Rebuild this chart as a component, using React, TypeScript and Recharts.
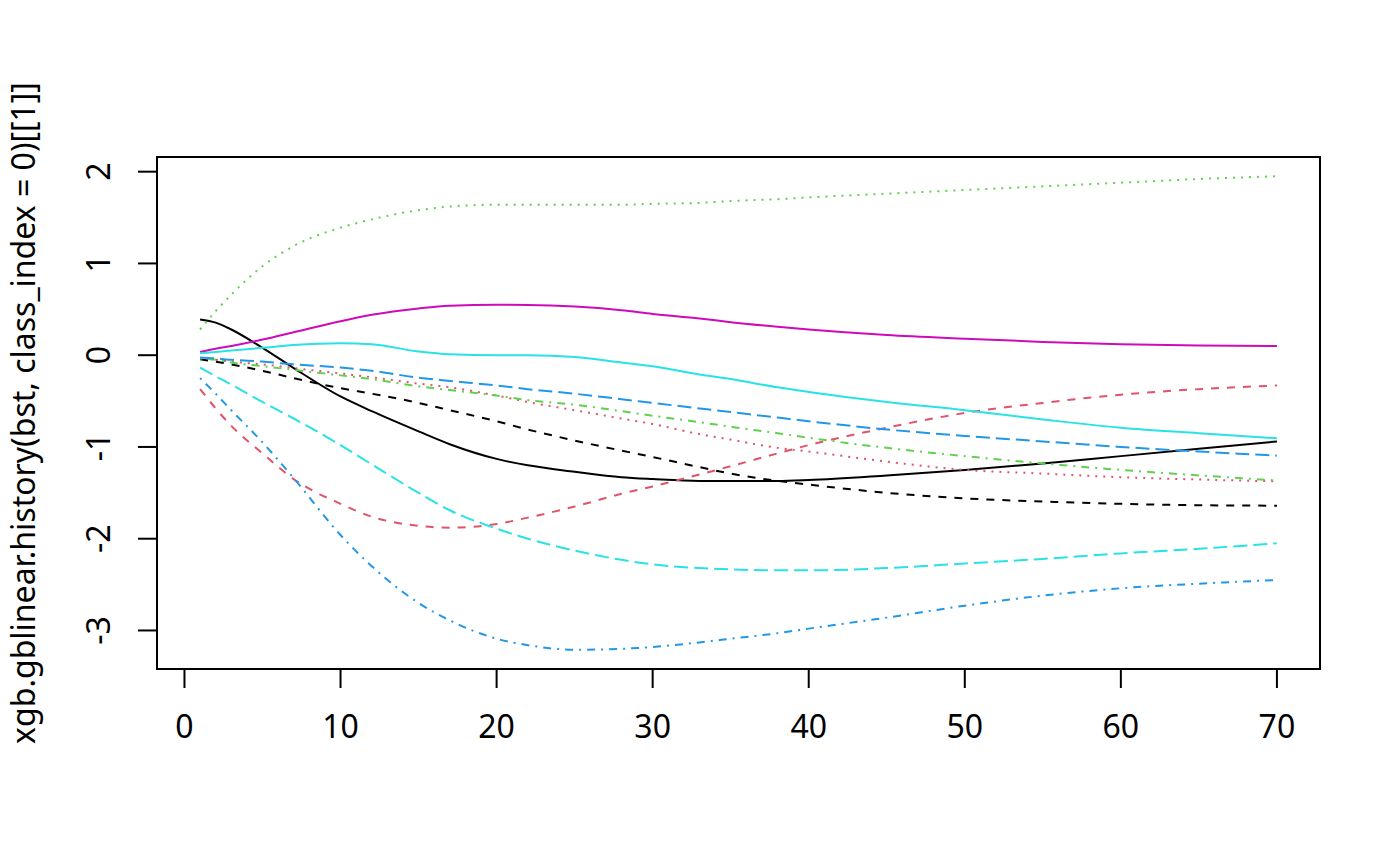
import React from 'react';
import { LineChart, Line, XAxis, YAxis, ReferenceArea } from 'recharts';

// iteration numbers the history was sampled at
const iterations = [1, 2, 3, 5, 7, 10, 12, 15, 17, 20, 22, 25, 28, 30, 33, 35, 38, 40, 45, 50, 55, 60, 65, 70];

// one array per coefficient column of the history matrix
const coef1 = [0.39, 0.355, 0.28, 0.08, -0.14, -0.45, -0.61, -0.83, -0.97, -1.13, -1.2, -1.27, -1.33, -1.35, -1.37, -1.37, -1.37, -1.36, -1.31, -1.25, -1.18, -1.1, -1.02, -0.94];
const coef2 = [-0.37, -0.58, -0.77, -1.07, -1.35, -1.62, -1.76, -1.86, -1.88, -1.84, -1.77, -1.65, -1.51, -1.43, -1.3, -1.21, -1.07, -0.98, -0.79, -0.63, -0.52, -0.43, -0.37, -0.33];
const coef3 = [0.28, 0.48, 0.66, 0.97, 1.19, 1.39, 1.48, 1.58, 1.62, 1.64, 1.64, 1.64, 1.64, 1.65, 1.66, 1.68, 1.7, 1.72, 1.76, 1.8, 1.84, 1.88, 1.92, 1.95];
const coef4 = [-0.25, -0.42, -0.6, -0.95, -1.34, -1.96, -2.3, -2.7, -2.89, -3.09, -3.16, -3.21, -3.2, -3.18, -3.13, -3.09, -3.03, -2.98, -2.86, -2.73, -2.62, -2.54, -2.49, -2.45];
const coef5 = [-0.135, -0.23, -0.32, -0.51, -0.69, -0.98, -1.19, -1.5, -1.69, -1.89, -2.0, -2.13, -2.23, -2.28, -2.32, -2.335, -2.345, -2.345, -2.32, -2.27, -2.22, -2.16, -2.11, -2.05];
const coef6 = [0.035, 0.07, 0.1, 0.17, 0.25, 0.37, 0.44, 0.51, 0.54, 0.55, 0.548, 0.53, 0.49, 0.45, 0.4, 0.36, 0.31, 0.28, 0.22, 0.18, 0.145, 0.12, 0.105, 0.1];
const coef7 = [-0.045, -0.07, -0.1, -0.17, -0.25, -0.36, -0.42, -0.52, -0.6, -0.72, -0.81, -0.93, -1.04, -1.11, -1.22, -1.29, -1.37, -1.41, -1.5, -1.56, -1.595, -1.62, -1.635, -1.64];
const coef8 = [-0.03, -0.05, -0.07, -0.1, -0.14, -0.2, -0.24, -0.31, -0.35, -0.44, -0.51, -0.6, -0.69, -0.75, -0.86, -0.92, -1.01, -1.05, -1.16, -1.25, -1.29, -1.33, -1.355, -1.375];
const coef9 = [-0.035, -0.05, -0.08, -0.12, -0.16, -0.22, -0.26, -0.34, -0.38, -0.44, -0.49, -0.54, -0.61, -0.66, -0.73, -0.78, -0.85, -0.9, -1.01, -1.1, -1.18, -1.25, -1.31, -1.365];
const coef10 = [-0.025, -0.035, -0.05, -0.07, -0.1, -0.135, -0.17, -0.245, -0.28, -0.33, -0.37, -0.42, -0.48, -0.52, -0.58, -0.62, -0.68, -0.72, -0.81, -0.88, -0.94, -1.0, -1.05, -1.095];
const coef11 = [0.02, 0.035, 0.05, 0.08, 0.11, 0.13, 0.12, 0.04, 0.01, 0.0, 0.0, -0.02, -0.08, -0.12, -0.21, -0.26, -0.35, -0.4, -0.51, -0.6, -0.7, -0.79, -0.85, -0.905];

const xTicks = [0, 10, 20, 30, 40, 50, 60, 70];
const yTicks = [-3, -2, -1, 0, 1, 2];
const yLabel = 'xgb.gblinear.history(bst, class_index = 0)[[1]]';

// matplot defaults: col = 1:6, lty = 1:5
const palette = ['#000000', '#DF536B', '#61D04F', '#2297E6', '#28E2E5', '#CD0BBC'];
const dashes = ['', '8 8', '2 6', '2 6 8 6', '14 6'];

const columns = [coef1, coef2, coef3, coef4, coef5, coef6, coef7, coef8, coef9, coef10, coef11];

const data = iterations.map((it, i) => {
    const row: any = { iter: it };
    columns.forEach((col, j) => {
        row['c' + (j + 1)] = col[i];
    });
    return row;
});

const X_DOMAIN: [number, number] = [-1.76, 72.76];
const Y_DOMAIN: [number, number] = [-3.42, 2.16];
const FONT = '"Noto Sans", "DejaVu Sans", sans-serif';

const XTick = (props: any) => {
    const { x, y, payload } = props;
    return (
        <text x={x} y={y + 50} textAnchor="middle" fontSize={32} fontFamily={FONT} fill="#000">
            {payload.value}
        </text>
    );
};

const YTick = (props: any) => {
    const { x, y, payload } = props;
    return (
        <text
            x={x}
            y={y}
            transform={`rotate(-90, ${x}, ${y})`}
            textAnchor="middle"
            fontSize={32}
            fontFamily={FONT}
            fill="#000"
        >
            {payload.value}
        </text>
    );
};

export default function App() {
    return (
        <div style={{ position: 'absolute', left: 0, top: 0, width: 1400, height: 866, background: '#fff' }}>
            <LineChart width={1400} height={866} data={data} margin={{ top: 157, right: 80, bottom: 0, left: 0 }}>
                <XAxis
                    dataKey="iter"
                    type="number"
                    domain={X_DOMAIN}
                    ticks={xTicks}
                    interval={0}
                    allowDataOverflow
                    height={197}
                    axisLine={false}
                    tickSize={19}
                    tickMargin={0}
                    tickLine={{ stroke: '#000', strokeWidth: 2 }}
                    tick={<XTick />}
                />
                <YAxis
                    type="number"
                    domain={Y_DOMAIN}
                    ticks={yTicks}
                    interval={0}
                    allowDataOverflow
                    width={157}
                    axisLine={false}
                    tickSize={19}
                    tickMargin={28}
                    tickLine={{ stroke: '#000', strokeWidth: 2 }}
                    tick={<YTick />}
                    label={{
                        content: (p: any) => {
                            const vb = p.viewBox || { x: 0, y: 157, height: 512 };
                            const cx = vb.x + 35;
                            const cy = vb.y + vb.height / 2;
                            return (
                                <text
                                    x={cx}
                                    y={cy}
                                    transform={`rotate(-90, ${cx}, ${cy})`}
                                    textAnchor="middle"
                                    fontSize={32}
                                    fontFamily={FONT}
                                    fill="#000"
                                >
                                    {yLabel}
                                </text>
                            );
                        },
                    }}
                />
                <ReferenceArea
                    x1={X_DOMAIN[0]}
                    x2={X_DOMAIN[1]}
                    y1={Y_DOMAIN[0]}
                    y2={Y_DOMAIN[1]}
                    fill="none"
                    fillOpacity={0}
                    stroke="#000"
                    strokeWidth={2}
                    ifOverflow="extendDomain"
                />
                {columns.map((_, j) => (
                    <Line
                        key={j}
                        dataKey={'c' + (j + 1)}
                        type="monotone"
                        stroke={palette[j % 6]}
                        strokeWidth={2}
                        strokeDasharray={dashes[j % 5] || undefined}
                        strokeLinecap="butt"
                        dot={false}
                        activeDot={false}
                        isAnimationActive={false}
                    />
                ))}
            </LineChart>
        </div>
    );
}
